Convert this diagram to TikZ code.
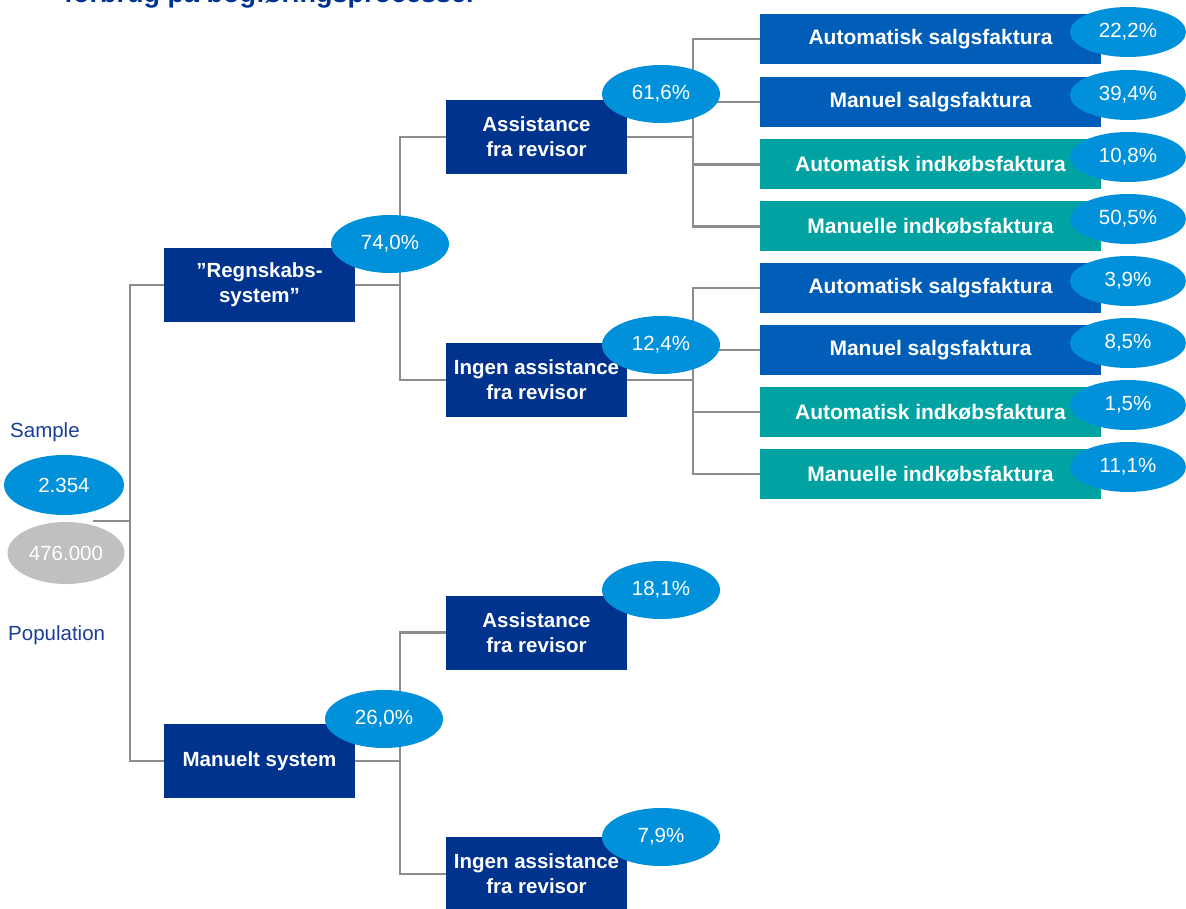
\documentclass[tikz,border=0pt]{standalone}
\usepackage{fontspec}
\setmainfont{Liberation Sans}
\usetikzlibrary{shapes.geometric}
\definecolor{navy}{HTML}{00338D}
\definecolor{midblue}{HTML}{005EB8}
\definecolor{teal}{HTML}{00A3A1}
\definecolor{lightblue}{HTML}{0091DA}
\definecolor{linegray}{HTML}{8C8C8C}
\definecolor{popgray}{HTML}{C0C0C0}
\definecolor{labelblue}{HTML}{1A3E96}
\tikzset{
  conn/.style={draw=linegray, line width=2.5pt},
  navybox/.style={rectangle, fill=navy, text=white, inner sep=0pt, align=center,
    font=\bfseries\fontsize{20.5}{25}\selectfont},
  lvl1/.style={navybox, minimum width=191pt, minimum height=74pt},
  lvl2/.style={navybox, minimum width=181pt, minimum height=74pt},
  leafbox/.style={rectangle, text=white, inner sep=0pt, minimum width=341pt, minimum height=50pt,
    font=\bfseries\fontsize{21}{24}\selectfont},
  salg/.style={leafbox, fill=midblue},
  indk/.style={leafbox, fill=teal},
  pct/.style={ellipse, fill=lightblue, text=white, inner sep=0pt, minimum width=118pt, minimum height=58pt,
    font=\fontsize{20.5}{22}\selectfont},
  leafpct/.style={pct, minimum width=116pt, minimum height=50pt},
  lbl/.style={text=labelblue, inner sep=0pt, font=\fontsize{20.5}{22}\selectfont}
}
\begin{document}
\begin{tikzpicture}[x=1pt,y=-1pt]
\useasboundingbox (0,0) rectangle (1186,909);
\clip (0,0) rectangle (1186,909);
% title (cut off at top, as in the reference)
\node[anchor=base west, inner sep=0pt, text=navy, font=\bfseries\fontsize{27}{30}\selectfont] (title) at (64,3) {forbrug på bogføringsprocesser};
% boxes
\node[lvl1] (r) at (259.5,285) {”Regnskabs-\\system”};
\node[lvl1] (m) at (259.5,761) {Manuelt system};
\node[lvl2] (a1) at (536.5,137) {Assistance\\fra revisor};
\node[lvl2] (i1) at (536.5,380) {Ingen assistance\\fra revisor};
\node[lvl2] (a2) at (536.5,632.5) {Assistance\\fra revisor};
\node[lvl2] (i2) at (536.5,874) {Ingen assistance\\fra revisor};
\node[salg] (l1) at (930.5,39) {Automatisk salgsfaktura};
\node[salg] (l2) at (930.5,102) {Manuel salgsfaktura};
\node[indk] (l3) at (930.5,164.5) {Automatisk indkøbsfaktura};
\node[indk] (l4) at (930.5,226.5) {Manuelle indkøbsfaktura};
\node[salg] (l5) at (930.5,288) {Automatisk salgsfaktura};
\node[salg] (l6) at (930.5,350) {Manuel salgsfaktura};
\node[indk] (l7) at (930.5,412) {Automatisk indkøbsfaktura};
\node[indk] (l8) at (930.5,474) {Manuelle indkøbsfaktura};
% labels
\node[lbl, anchor=base west] (sample) at (10,437) {Sample};
\node[lbl, anchor=base west] (population) at (8,640) {Population};
% junctions
\coordinate (s0) at (93,521);
\coordinate (j0) at (130,521);
\coordinate (jr) at (400,285);
\coordinate (jm) at (400,761);
\coordinate (ja) at (693,137);
\coordinate (ji) at (693,380);
% connectors
\draw[conn] (s0) -- (j0);
\draw[conn] (j0) |- (r.west);
\draw[conn] (j0) |- (m.west);
\draw[conn] (r.east) -- (jr);
\draw[conn] (jr) |- (a1.west);
\draw[conn] (jr) |- (i1.west);
\draw[conn] (m.east) -- (jm);
\draw[conn] (jm) |- (a2.west);
\draw[conn] (jm) |- (i2.west);
\draw[conn] (a1.east) -- (ja);
\draw[conn] (ja) |- (l1.west);
\draw[conn] (ja) |- (l2.west);
\draw[conn] (ja) |- (l3.west);
\draw[conn] (ja) |- (l4.west);
\draw[conn] (i1.east) -- (ji);
\draw[conn] (ji) |- (l5.west);
\draw[conn] (ji) |- (l6.west);
\draw[conn] (ji) |- (l7.west);
\draw[conn] (ji) |- (l8.west);
% ellipses
\node[pct, minimum width=120pt, minimum height=60pt] (sn) at (64,485) {2.354};
\node[pct, fill=popgray, minimum width=117pt, minimum height=62pt] (pn) at (66,553) {476.000};
\node[pct] (p74) at (390,244) {74,0\%};
\node[pct] (p26) at (384,719) {26,0\%};
\node[pct] (p616) at (661,94) {61,6\%};
\node[pct] (p124) at (661,345) {12,4\%};
\node[pct] (p181) at (661,590) {18,1\%};
\node[pct] (p79) at (661,837) {7,9\%};
\node[leafpct] (q1) at (1128,32) {22,2\%};
\node[leafpct] (q2) at (1128,95) {39,4\%};
\node[leafpct] (q3) at (1128,157) {10,8\%};
\node[leafpct] (q4) at (1128,219) {50,5\%};
\node[leafpct] (q5) at (1128,281) {3,9\%};
\node[leafpct] (q6) at (1128,343) {8,5\%};
\node[leafpct] (q7) at (1128,405) {1,5\%};
\node[leafpct] (q8) at (1128,467) {11,1\%};
\end{tikzpicture}
\end{document}
